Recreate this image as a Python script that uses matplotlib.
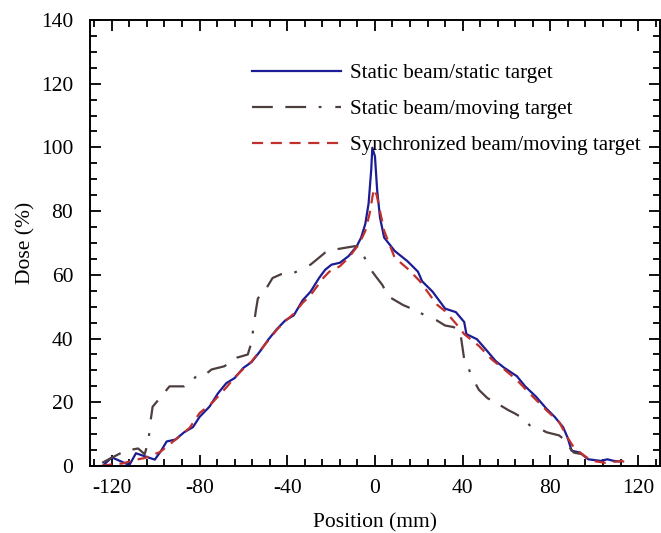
import matplotlib
matplotlib.use("Agg")
import matplotlib.pyplot as plt
from matplotlib.ticker import MultipleLocator

plt.rcParams['font.family'] = ['Liberation Serif', 'DejaVu Serif']
plt.rcParams['lines.scale_dashes'] = False
plt.rcParams['axes.unicode_minus'] = False

# Static beam / static target
x_static = [-123.5, -120, -112, -109, -100.4, -97.5, -95, -91, -87, -83, -80, -75.5, -71.6,
            -67.8, -64, -60, -56.3, -52.4, -48.5, -44.7, -40.9, -37, -33, -29.4, -25.5,
            -22.7, -19.8, -16, -12, -8.3, -6.3, -4.4, -2.9, -1.7, -1.2, 0, 1, 2.3, 4.2, 9,
            14.8, 19.6, 21.5, 26.3, 32, 36.9, 40.7, 41.7, 46.5, 51.3, 55.1, 59, 64.7, 68.5,
            73.4, 78.2, 82, 85.8, 87.8, 89.7, 93.5, 97.3, 103, 106, 108.9, 111.8]
y_static = [0.5, 2.7, 0.3, 4.0, 2.0, 4.8, 7.7, 8.3, 10.6, 12.2, 15.4, 18.6, 22.8,
            26.0, 27.6, 30.8, 32.6, 36.0, 39.8, 43.0, 45.7, 47.3, 52.0, 54.7, 59.0,
            61.6, 63.2, 63.8, 65.9, 69.0, 71.7, 76.0, 82.4, 93.0, 99.9, 97.2, 86.6, 78.0, 71.7, 67.5,
            64.3, 61.0, 58.0, 54.7, 49.4, 48.3, 45.2, 41.4, 39.8, 36.0, 32.9, 30.8, 28.2, 25.0,
            21.8, 18.0, 15.4, 12.2, 9.0, 4.8, 4.2, 2.1, 1.6, 2.1, 1.6, 1.4]

# Static beam / moving target
x_moving = [-124.4, -120.6, -113.8, -108, -105, -103.3, -102.3, -101.4, -97.5, -93.7, -90.8,
            -87, -83, -80.3, -77.4, -74.5, -71.6, -68.7, -63, -58, -56.3, -55.3, -54.4,
            -53.4, -49.5, -46.7, -42.8, -37, -29.4, -25.5, -22.7, -17.9, -9.2, -7.3, -5.4,
            -2.5, 0.4, 3.3, 6.2, 12.9, 16.7, 19.6, 24.4, 28.2, 32, 35.9, 38.8, 40.7, 42.6,
            44.5, 47.4, 51.3, 55.1, 60.9, 63.8, 67.6, 71.4, 75.3, 78.2, 84, 86.8, 88.7,
            90.7, 94.5, 96.4, 99.3, 101.2]
y_moving = [1.0, 2.4, 4.8, 5.5, 3.7, 8.0, 14.3, 18.6, 21.8, 25.0, 25.0,
            25.0, 27.0, 29.2, 28.7, 30.3, 30.8, 31.3, 34.0, 35.0, 38.8, 44.0, 48.4,
            52.6, 55.8, 59.0, 60.2, 60.6, 63.2, 65.4, 67.0, 68.0, 69.0, 69.0, 66.4,
            62.2, 59.5, 56.9, 53.2, 50.5, 49.4, 48.4, 46.8, 45.7, 44.1, 43.6, 42.5, 33.5, 30.8,
            27.6, 23.9, 21.3, 19.9, 17.5, 16.5, 14.9, 12.2, 11.7, 10.6, 9.6, 8.0, 5.8,
            4.2, 3.7, 2.6, 1.6, 1.0]

# Synchronized beam / moving target
x_sync = [-125, -120, -115, -109.6, -105, -98, -90, -84.5, -80, -74, -67.6, -64, -60, -56.3,
          -52.4, -48.5, -44.7, -40.9, -37, -33, -29.4, -23.6, -20.8, -16, -12, -7.3, -4.4,
          -2.5, -0.5, 0.8, 2.3, 4.2, 9, 14.8, 20.5, 28.2, 32, 37.8, 40.7, 47.4, 53.2, 59,
          64.7, 70.5, 78.2, 84, 87.8, 90.7, 95.4, 99.3, 105, 112.7, 115.6]
y_sync = [0.0, 0.5, 0.8, 1.9, 2.5, 4.4, 8.8, 12.0, 16.6, 20.0, 24.8, 27.8, 30.5, 32.8,
          36.2, 39.5, 42.8, 45.5, 47.8, 51.2, 53.6, 59.0, 61.0, 62.7, 65.4, 69.6, 73.8,
          79.0, 87.0, 85.0, 80.0, 73.8, 65.4, 62.0, 58.0, 50.7, 48.6, 44.0, 41.4, 37.7, 33.5, 30.3,
          27.0, 22.8, 17.5, 13.8, 9.0, 5.8, 3.2, 1.6, 1.0, 1.6, 0.5]

FS = 15.5
LFS = 15.2

fig = plt.figure(figsize=(6.61, 5.33), dpi=100)
ax = fig.add_axes([0.136, 0.1257, 0.8625, 0.8368])

ax.plot(x_static, y_static, color='#1c1c94', lw=1.6, label='Static beam/static target')
l2, = ax.plot(x_moving, y_moving, color='#4e3e3e', lw=1.6, label='Static beam/moving target')
l2.set_dashes([15, 9, 15, 9, 2, 10])
l3, = ax.plot(x_sync, y_sync, color='#c0302c', lw=1.6, label='Synchronized beam/moving target')
l3.set_dashes([8, 5.5])

ax.set_xlim(-130, 130)
ax.set_ylim(0, 140)
ax.xaxis.set_major_locator(MultipleLocator(40))
ax.xaxis.set_minor_locator(MultipleLocator(8))
ax.yaxis.set_major_locator(MultipleLocator(20))
ax.yaxis.set_minor_locator(MultipleLocator(5))
ax.tick_params(which='both', direction='in', top=True, right=True, width=1.3, labelsize=FS)
ax.tick_params(which='major', length=8)
ax.tick_params(axis='y', which='major', pad=12)
ax.tick_params(axis='x', which='major', pad=9)
ax.tick_params(which='minor', length=5)
for s in ax.spines.values():
    s.set_linewidth(1.4)

ax.set_xlabel('Position (mm)', fontsize=FS, labelpad=11)
ax.set_ylabel('Dose (%)', fontsize=FS, labelpad=4)

ax.legend(loc='upper left', bbox_to_anchor=(0.27, 0.921), frameon=False, fontsize=LFS,
          handlelength=4.2, handletextpad=0.42, labelspacing=0.76, borderaxespad=0)

fig.savefig('out.png', dpi=100)
